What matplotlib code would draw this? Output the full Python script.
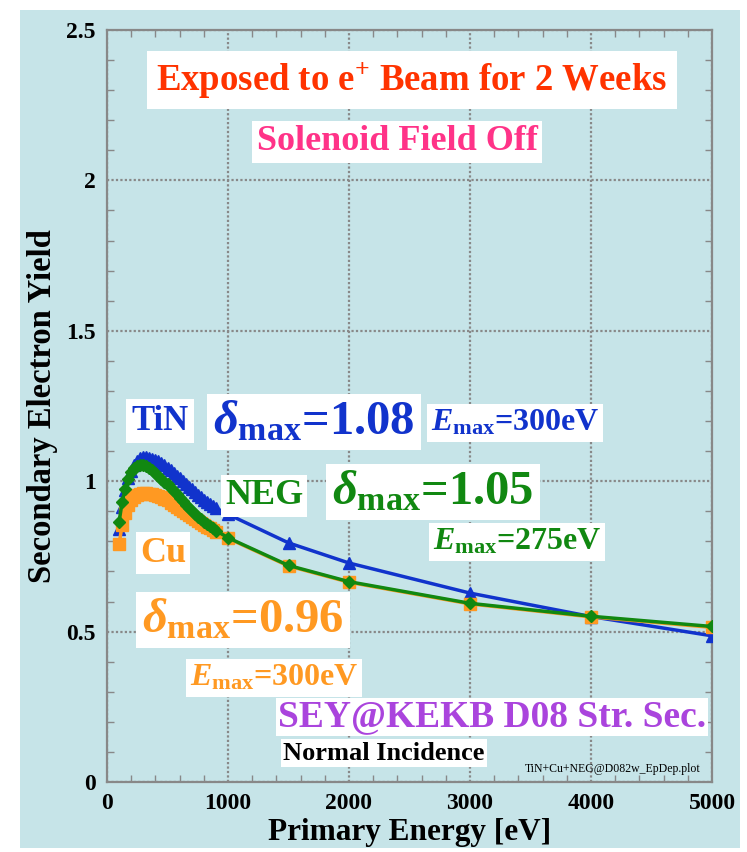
import numpy as np
import matplotlib
matplotlib.use("Agg")
import matplotlib.pyplot as plt
from matplotlib.patches import Rectangle
from matplotlib.ticker import MultipleLocator, FormatStrFormatter

plt.rcParams['font.family'] = ['Liberation Serif', 'DejaVu Serif']
plt.rcParams['font.weight'] = 'bold'
plt.rcParams['mathtext.fontset'] = 'custom'
plt.rcParams['mathtext.rm'] = 'Liberation Serif:bold'
plt.rcParams['mathtext.it'] = 'Liberation Serif:italic:bold'
plt.rcParams['mathtext.bf'] = 'Liberation Serif:bold'

# primary energies [eV]
energy = [100, 125, 150, 175, 200, 225, 250, 275, 300, 325, 350, 375, 400,
          425, 450, 475, 500, 525, 550, 575, 600, 625, 650, 675, 700, 725,
          750, 775, 800, 825, 850, 875, 900, 1000, 1500, 2000, 3000, 4000, 5000]

sey_tin = [0.84, 0.915, 0.97, 1.01, 1.035, 1.055, 1.068, 1.076, 1.080, 1.080,
           1.078, 1.075, 1.071, 1.066, 1.060, 1.053, 1.045, 1.036, 1.027, 1.018,
           1.009, 1.000, 0.991, 0.982, 0.973, 0.964, 0.955, 0.946, 0.938, 0.930,
           0.923, 0.916, 0.910, 0.89, 0.795, 0.728, 0.628, 0.55, 0.486]

sey_neg = [0.865, 0.93, 0.975, 1.008, 1.03, 1.044, 1.052, 1.055, 1.054, 1.050,
           1.044, 1.036, 1.026, 1.017, 1.008, 0.999, 0.990, 0.979, 0.968, 0.956,
           0.945, 0.934, 0.922, 0.911, 0.900, 0.891, 0.882, 0.873, 0.864, 0.857,
           0.850, 0.843, 0.836, 0.812, 0.72, 0.666, 0.594, 0.551, 0.517]

sey_cu = [0.79, 0.855, 0.895, 0.92, 0.937, 0.948, 0.955, 0.959, 0.960, 0.960,
          0.959, 0.957, 0.954, 0.950, 0.946, 0.941, 0.936, 0.929, 0.922, 0.915,
          0.908, 0.901, 0.894, 0.887, 0.880, 0.874, 0.868, 0.861, 0.855, 0.849,
          0.843, 0.838, 0.832, 0.81, 0.718, 0.664, 0.592, 0.549, 0.514]

BG = '#c6e4e8'
BLUE = '#1133cc'
GREEN = '#118811'
ORANGE = '#ff9922'

W, H = 747, 852
fig = plt.figure(figsize=(W / 100, H / 100), dpi=100, facecolor='white')
fig.patches.append(Rectangle((20 / W, 4 / H), 720 / W, 838 / H,
                             transform=fig.transFigure, facecolor=BG,
                             edgecolor='none', zorder=-10))

L, R, T, B = 107, 712, 30, 782
ax = fig.add_axes([L / W, (H - B) / H, (R - L) / W, (B - T) / H])
ax.set_facecolor(BG)

ax.plot(energy, sey_tin, color=BLUE, lw=2.5, marker='^', ms=9, zorder=3)
ax.plot(energy, sey_cu, color=ORANGE, lw=2.5, marker='s', ms=8, zorder=4)
ax.plot(energy, sey_neg, color=GREEN, lw=2.5, marker='D', ms=6.5, zorder=5)

ax.set_xlim(0, 5000)
ax.set_ylim(0, 2.5)
ax.xaxis.set_major_locator(MultipleLocator(1000))
ax.xaxis.set_minor_locator(MultipleLocator(200))
ax.yaxis.set_major_locator(MultipleLocator(0.5))
ax.yaxis.set_minor_locator(MultipleLocator(0.1))
ax.yaxis.set_major_formatter(FormatStrFormatter('%g'))
ax.tick_params(which='both', direction='in', top=True, right=True,
               color='#888888')
ax.tick_params(which='major', length=0, labelsize=17, pad=8)
ax.tick_params(which='minor', length=5, width=1)
ax.grid(True, which='major', color='#888888', ls=(0, (1, 1)), lw=1.6)
for sp in ax.spines.values():
    sp.set_color('#888888')
    sp.set_linestyle((0, (1, 1)))
    sp.set_linewidth(1.6)

ax.set_xlabel('Primary Energy [eV]', fontsize=22.5, fontweight='bold', labelpad=3)
ax.set_ylabel('Secondary Electron Yield', fontsize=23.5, fontweight='bold', labelpad=6)


def put(px, py, s, color, size, pad=0.25, **kw):
    ax.text((px - L) / (R - L), (B - py) / (B - T), s, color=color,
            fontsize=size, fontweight='bold', ha='center', va='center',
            transform=ax.transAxes, zorder=6,
            bbox=dict(boxstyle='square,pad=%g' % pad, fc='white', ec='none'),
            **kw)


put(412, 80, r'Exposed to e$^{+}$ Beam for 2 Weeks', '#ff3300', 26.5, pad=0.25)
put(397, 142, 'Solenoid Field Off', '#ff3388', 26, pad=0.12)
put(160, 421, 'TiN', BLUE, 25, pad=0.15)
put(314, 422, r'$\delta_{\rm max}$=1.08', BLUE, 35, pad=0.12)
put(515, 423, r'$E_{\rm max}$=300eV', BLUE, 23, pad=0.12)
put(264, 496, 'NEG', GREEN, 26, pad=0.12)
put(433, 492, r'$\delta_{\rm max}$=1.05', GREEN, 35, pad=0.12)
put(517, 542, r'$E_{\rm max}$=275eV', GREEN, 23, pad=0.12)
put(163, 553, 'Cu', ORANGE, 26, pad=0.12)
put(243, 620, r'$\delta_{\rm max}$=0.96', ORANGE, 35, pad=0.12)
put(274, 678, r'$E_{\rm max}$=300eV', ORANGE, 23, pad=0.12)
put(492, 717, 'SEY@KEKB D08 Str. Sec.', '#aa44dd', 27, pad=0.05)
put(384, 753, 'Normal Incidence', 'black', 19, pad=0.08)
ax.text((613 - L) / (R - L), (B - 769) / (B - T), 'TiN+Cu+NEG@D082w_EpDep.plot',
        fontsize=8.5, fontweight='normal', ha='center', va='center',
        transform=ax.transAxes, zorder=6)

fig.savefig('out.png', dpi=100, facecolor='white')
